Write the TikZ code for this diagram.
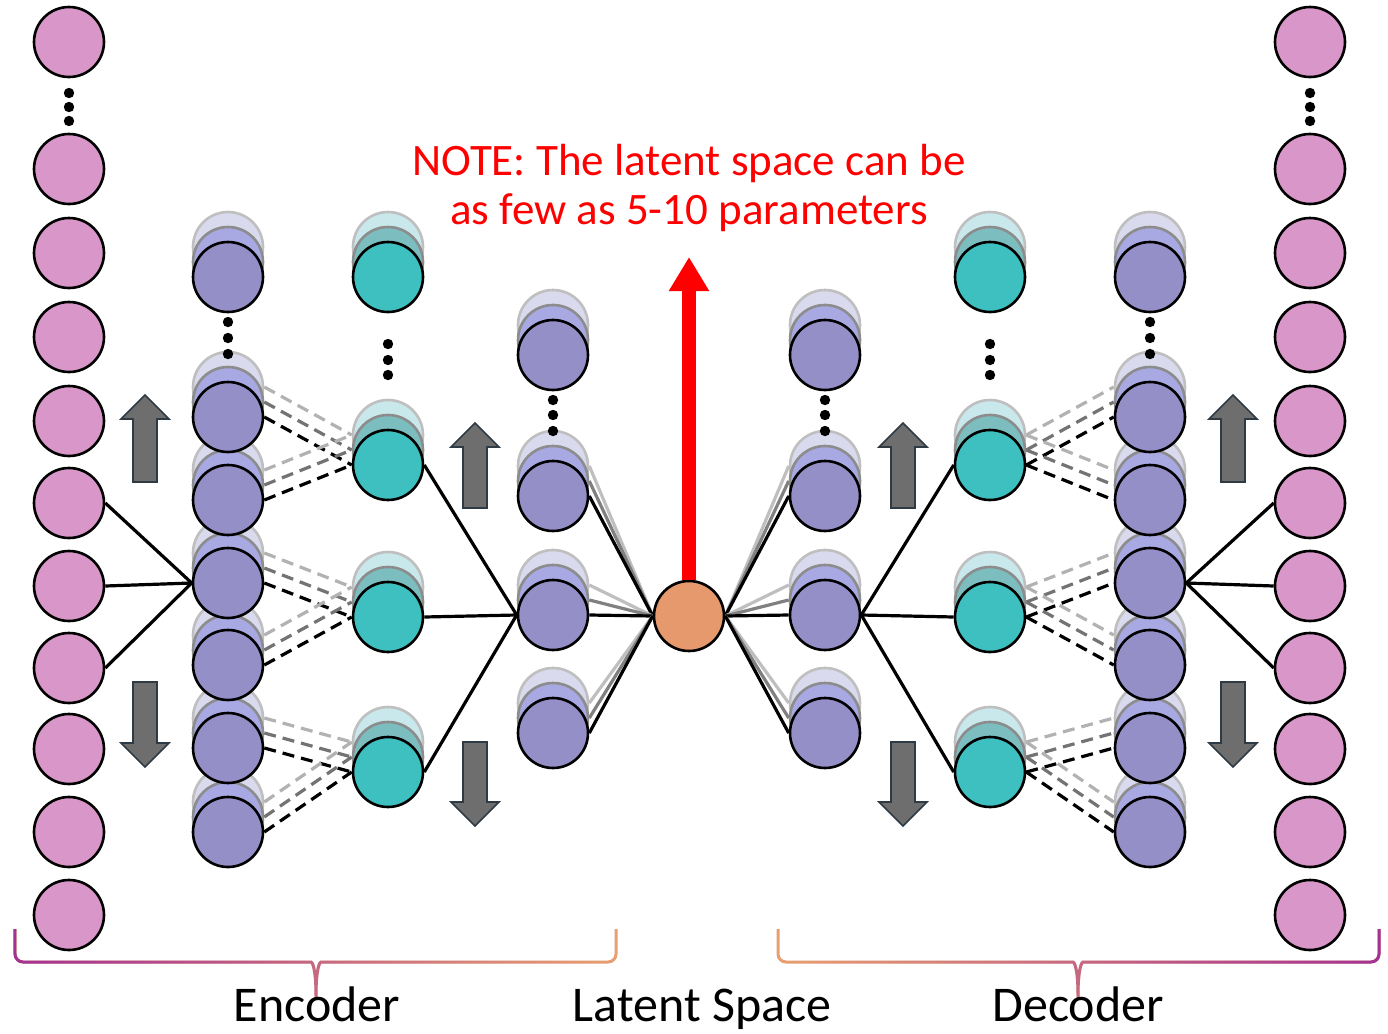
\documentclass[tikz,border=0pt]{standalone}
\usepackage{fontspec}
\setmainfont{Carlito}
\usepackage{xcolor}
\usepackage{tikz}
\usetikzlibrary{arrows.meta, fadings}
\definecolor{pinkfill}{RGB}{217,150,200}
\definecolor{purpfront}{RGB}{148,143,199}
\definecolor{purpmid}{RGB}{168,168,226}
\definecolor{purpback}{RGB}{218,218,238}
\definecolor{tealfront}{RGB}{62,192,192}
\definecolor{tealmid}{RGB}{124,190,192}
\definecolor{tealback}{RGB}{200,232,236}
\definecolor{latfill}{RGB}{229,153,108}
\definecolor{arrgray}{RGB}{110,110,110}
\definecolor{arredge}{RGB}{46,59,69}
\definecolor{brkp}{RGB}{163,50,150}
\definecolor{brko}{RGB}{232,160,112}
\pgfdeclarelayer{background}
\pgfsetlayers{background,main}
\tikzset{
  neu/.style={circle, minimum size=35pt, inner sep=0pt, line width=1.3pt, draw=black},
  pinkn/.style={neu, fill=pinkfill},
  purpf/.style={neu, fill=purpfront},
  purpm/.style={neu, fill=purpmid, draw=black!45},
  purpb/.style={neu, fill=purpback, draw=black!25},
  tealf/.style={neu, fill=tealfront},
  tealm/.style={neu, fill=tealmid, draw=black!45},
  tealb/.style={neu, fill=tealback, draw=black!25},
  latn/.style={neu, fill=latfill},
  wire/.style={line width=1.6pt, draw=black},
  dwire/.style={wire, dash pattern=on 6pt off 3.5pt},
  blkarrow/.style={fill=arrgray, draw=arredge, line width=0.8pt},
  redarr/.style={-{Triangle[width=19pt,length=17pt]}, line width=7pt, draw=red},
  brk/.style={line width=1.5pt, rounded corners=4pt},
  notetxt/.style={text=red, align=center, font=\fontsize{22.5}{24.5}\selectfont},
  lbl/.style={anchor=base, font=\fontsize{25}{28}\selectfont},
}
% one neuron with two shadow copies behind it
\newcommand{\stk}[4]{%
  \node[#4b] (#1-2) at (#2,#3-30) {};
  \node[#4m] (#1-1) at (#2,#3-15) {};
  \node[#4f] (#1) at (#2,#3) {};
}
% dashed links between two stacks
\newcommand{\dtrip}[2]{%
  \draw[dwire, draw=black!30] (#1-2.east) -- (#2-2.west);
  \draw[dwire, draw=black!55] (#1-1.east) -- (#2-1.west);
  \draw[dwire] (#1.east) -- (#2.west);
}
% links into / out of the latent node
\newcommand{\intrip}[2]{%
  \draw[wire, draw=black!25] (#1-2.east) -- (#2.west);
  \draw[wire, draw=black!50] (#1-1.east) -- (#2.west);
  \draw[wire] (#1.east) -- (#2.west);
}
\newcommand{\outtrip}[2]{%
  \draw[wire, draw=black!25] (#1.east) -- (#2-2.west);
  \draw[wire, draw=black!50] (#1.east) -- (#2-1.west);
  \draw[wire] (#1.east) -- (#2.west);
}
\newcommand{\uparr}[3]{%
  \draw[blkarrow] (#1-12,#3) -- (#1-12,#2+24) -- (#1-24,#2+24) -- (#1,#2)
    -- (#1+24,#2+24) -- (#1+12,#2+24) -- (#1+12,#3) -- cycle;
}
\newcommand{\dnarr}[3]{%
  \draw[blkarrow] (#1-12,#2) -- (#1-12,#3-24) -- (#1-24,#3-24) -- (#1,#3)
    -- (#1+24,#3-24) -- (#1+12,#3-24) -- (#1+12,#2) -- cycle;
}

\begin{document}
\begin{tikzpicture}[x=0.5pt, y=-0.5pt]
  \useasboundingbox (0,0) rectangle (1388,1034);

  % input / output columns
  \foreach \i/\y in {1/42,2/169,3/253,4/337,5/421,6/503,7/586,8/668,9/749,10/832,11/915} {
    \node[pinkn] (in\i) at (69,\y) {};
    \node[pinkn] (out\i) at (1310,\y) {};
  }

  % encoder
  \foreach \i/\y in {7/832,6/748,5/665,4/583,3/500,2/417,1/277} {\stk{e1n\i}{228}{\y}{purp}}
  \foreach \i/\y in {4/772,3/617,2/465,1/277} {\stk{e2n\i}{388}{\y}{teal}}
  \foreach \i/\y in {4/733,3/615,2/496,1/355} {\stk{e3n\i}{553}{\y}{purp}}

  % decoder
  \foreach \i/\y in {4/733,3/615,2/496,1/355} {\stk{d3n\i}{825}{\y}{purp}}
  \foreach \i/\y in {4/772,3/617,2/465,1/277} {\stk{d2n\i}{990}{\y}{teal}}
  \foreach \i/\y in {7/832,6/748,5/665,4/583,3/500,2/417,1/277} {\stk{d1n\i}{1150}{\y}{purp}}

  \node[latn] (lat) at (689,616) {};

  % ellipsis dots
  \foreach \x in {69,1310} \foreach \y in {93,107,121} \fill (\x,\y) circle (2.6pt);
  \foreach \x in {228,1150} \foreach \y in {322,338,354} \fill (\x,\y) circle (2.6pt);
  \foreach \x in {388,990} \foreach \y in {344,360,375} \fill (\x,\y) circle (2.6pt);
  \foreach \x in {553,825} \foreach \y in {400,415,431} \fill (\x,\y) circle (2.6pt);

  \begin{pgfonlayer}{background}
    \foreach \i in {6,7,8} {
      \draw[wire] (in\i.east) -- (e1n4.west);
      \draw[wire] (d1n4.east) -- (out\i.west);
    }
    \dtrip{e1n2}{e2n2} \dtrip{e1n3}{e2n2}
    \dtrip{e1n4}{e2n3} \dtrip{e1n5}{e2n3}
    \dtrip{e1n6}{e2n4} \dtrip{e1n7}{e2n4}
    \dtrip{d2n2}{d1n2} \dtrip{d2n2}{d1n3}
    \dtrip{d2n3}{d1n4} \dtrip{d2n3}{d1n5}
    \dtrip{d2n4}{d1n6} \dtrip{d2n4}{d1n7}
    \foreach \i in {2,3,4} {
      \draw[wire] (e2n\i.east) -- (e3n3.west);
      \draw[wire] (d3n3.east) -- (d2n\i.west);
      \intrip{e3n\i}{lat}
      \outtrip{lat}{d3n\i}
    }
  \end{pgfonlayer}

  % block arrows
  \uparr{145}{395}{482}  \dnarr{145}{682}{767}
  \uparr{475}{423}{508}  \dnarr{475}{742}{826}
  \uparr{903}{423}{508}  \dnarr{903}{742}{826}
  \uparr{1233}{395}{482} \dnarr{1233}{682}{767}

  % note
  \coordinate (notetip) at (689,257);
  \draw[redarr] (lat.north) -- (notetip);
  \node[notetxt] (note) at (689,188) {NOTE: The latent space can be\\as few as 5-10 parameters};

  % braces
  \draw[brk, draw=brko] (15,929) -- (15,962) -- (303,962) .. controls (312,962) and (316,967) .. (316,1004)
    .. controls (316,967) and (320,962) .. (329,962) -- (616,962) -- (616,929);
  \draw[brk, draw=brkp, path fading=east] (15,929) -- (15,962) -- (303,962) .. controls (312,962) and (316,967) .. (316,1004)
    .. controls (316,967) and (320,962) .. (329,962) -- (616,962) -- (616,929);
  \draw[brk, draw=brko] (778,929) -- (778,962) -- (1065,962) .. controls (1074,962) and (1078,967) .. (1078,1004)
    .. controls (1078,967) and (1082,962) .. (1091,962) -- (1379,962) -- (1379,929);
  \draw[brk, draw=brkp, path fading=west] (778,929) -- (778,962) -- (1065,962) .. controls (1074,962) and (1078,967) .. (1078,1004)
    .. controls (1078,967) and (1082,962) .. (1091,962) -- (1379,962) -- (1379,929);

  \node[lbl] (enc) at (317,1021) {Encoder};
  \node[lbl] (latlbl) at (702,1021) {Latent Space};
  \node[lbl] (dec) at (1078,1021) {Decoder};
\end{tikzpicture}
\end{document}
